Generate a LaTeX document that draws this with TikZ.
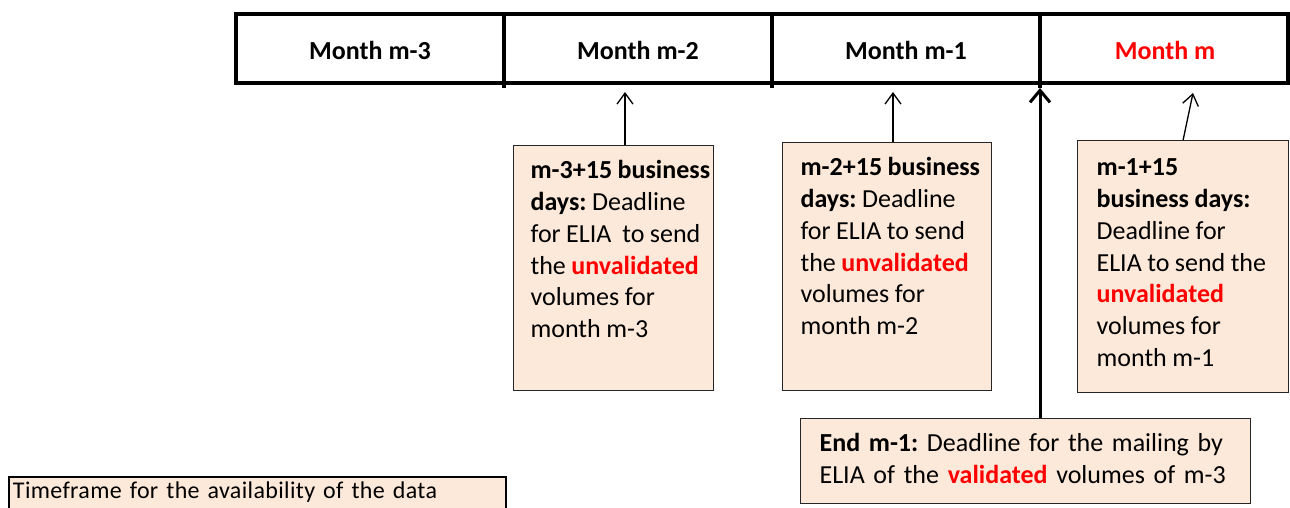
\documentclass[tikz,border=0pt]{standalone}
\usepackage{fontspec}
\setmainfont{Carlito}
\usepackage{tikz}
\usetikzlibrary{arrows.meta,positioning}
\definecolor{peach}{HTML}{FDE9D9}
\definecolor{hot}{HTML}{FF0000}
\newcommand{\hl}[1]{\textbf{\textcolor{hot}{#1}}}
\frenchspacing

\tikzset{
  month/.style={font=\fontsize{26}{31}\selectfont\bfseries},
  card/.style={draw=black!85, line width=1.2pt, fill=peach, anchor=north west,
    align=left, inner sep=0pt, font=\fontsize{26}{31.8}\selectfont,
    execute at begin node={\leftskip=#1\rightskip=-60pt plus 1fil\relax}},
  tight/.style={execute at begin node={\spaceskip=0.21em\relax}},
  tip/.style={-{Straight Barb[length=11pt,width=16pt,line width=1.3pt]}, line width=1.3pt},
  bigtip/.style={-{Straight Barb[length=12pt,width=20pt,line width=3pt]}, line width=3pt}
}

\begin{document}
\begin{tikzpicture}[x=1pt,y=-1pt]
  \useasboundingbox (0,0) rectangle (1290,508);
  % timeline
  \draw[line width=4pt] (236,14) rectangle (1288,83);
  \draw[line width=4pt] (504,14) -- (504,88);
  \draw[line width=4pt] (772,14) -- (772,88);
  \draw[line width=4pt] (1040,14) -- (1040,88);
  \node[month] (m3) at (370,50) {Month m-3};
  \node[month] (m2) at (638,50) {Month m-2};
  \node[month] (m1) at (906,50) {Month m-1};
  \node[month, text=hot] (m0) at (1165,50) {Month m};
  % arrow targets
  \coordinate (t3) at (625,92);
  \coordinate (t2) at (893,92);
  \coordinate (t1) at (1193,93);
  \coordinate (tm) at (1040,88);
  % deadline boxes
  \node[card=17pt, tight, text width=200pt, text height=33pt, text depth=212pt] (d3) at (513,145)
    {\textbf{m-3+15 business}\\\textbf{days:} Deadline\\for ELIA\ \ to send\\the \hl{unvalidated}\\volumes for\\month m-3};
  \node[card=18pt, tight, text width=209pt, text height=33pt, text depth=215pt] (d2) at (782,142)
    {\textbf{m-2+15 business}\\\textbf{days:} Deadline\\for ELIA to send\\the \hl{unvalidated}\\volumes for\\month m-2};
  \node[card=19pt, tight, text width=211pt, text height=35pt, text depth=217pt] (d1) at (1077,140)
    {\textbf{m-1+15}\\\textbf{business days:}\\Deadline for\\ELIA to send the\\\hl{unvalidated}\\volumes for\\month m-1};
  \node[card=19pt, text width=450pt, text height=33pt, text depth=52pt] (endm) at (800,418)
    {\textbf{End m-1:} Deadline for the mailing by\\ELIA of the \hl{validated} volumes of m-3};
  \node[card=4pt, draw=black, line width=2pt, text width=497pt, text height=21pt, text depth=30pt,
    font=\fontsize{24}{28}\selectfont\addfontfeatures{LetterSpace=1.5}] (note) at (8,476)
    {Timeframe for the availability of the data};
  % arrows
  \draw[tip] (d3.north -| t3) -- (t3);
  \draw[tip] (d2.north -| t2) -- (t2);
  \draw[tip] (d1.north) -- (t1);
  \draw[bigtip] (endm.north -| tm) -- (tm);
\end{tikzpicture}
\end{document}
